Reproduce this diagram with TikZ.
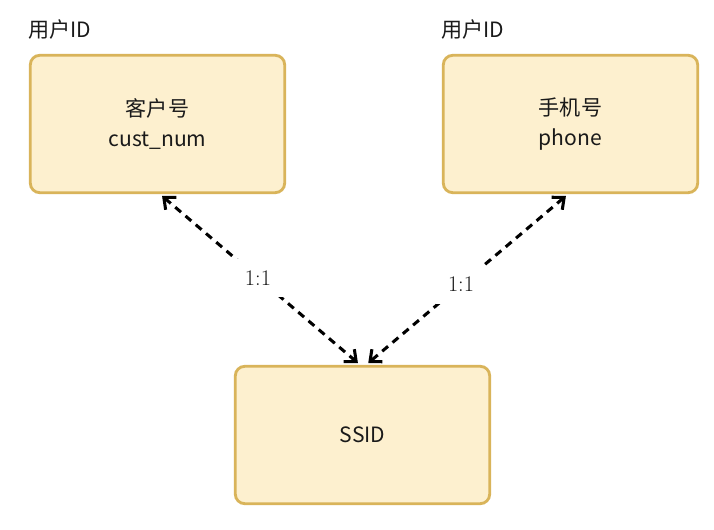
\documentclass[tikz,border=0pt]{standalone}
\usepackage{fontspec}
\usepackage{tikz}
\usepackage{xcolor}
\usetikzlibrary{arrows.meta,positioning,calc}
\newfontfamily\cjk{Noto Sans CJK SC}
\definecolor{ink}{HTML}{1A1A1A}
\definecolor{boxfill}{HTML}{FDF0CF}
\definecolor{boxline}{HTML}{D9B45A}
\tikzset{
  keybox/.style={draw=boxline,fill=boxfill,line width=2.4pt,rounded corners=8pt,
                 minimum width=7.63cm,minimum height=4.12cm,align=center,
                 font=\cjk\fontsize{18}{25.6}\selectfont,text=ink,inner sep=4pt},
  idlabel/.style={font=\cjk\fontsize{18}{22}\selectfont,text=ink,inner sep=0pt,anchor=base west},
  linkarr/.style={{Straight Barb[length=8pt,width=14pt]}-{Straight Barb[length=8pt,width=14pt]},
                  line width=2.6pt,dash pattern=on 6.5pt off 5pt,draw=black,
                  shorten <=2.5pt,shorten >=2.5pt},
  ratio/.style={font=\fontsize{19}{20}\selectfont,text=ink,fill=white,inner sep=10pt}
}

\begin{document}
\begin{tikzpicture}[x=0.03cm,y=0.03cm]
  \useasboundingbox[fill=white] (0,0) rectangle (714,530);

  % the two id tables on top
  \node[keybox] (cust) at (157.5,406) {客户号\\cust\_num};
  \node[keybox] (phone) at (570.5,406) {手机号\\phone};
  \node[idlabel] (custid) at ($(cust.north west)+(-1,16)$) {用户ID};
  \node[idlabel] (phoneid) at ($(phone.north west)+(-1,16)$) {用户ID};

  % the shared key below
  \node[keybox] (ssid) at (362.5,95) {SSID};

  % one-to-one links
  \draw[linkarr] ([xshift=2pt]cust.south) -- node[ratio,pos=0.49] (custratio) {1:1} ([xshift=-2pt]ssid.north);
  \draw[linkarr] ([xshift=-2pt]phone.south) -- node[ratio,pos=0.53] (phoneratio) {1:1} ([xshift=3pt]ssid.north);
\end{tikzpicture}
\end{document}
